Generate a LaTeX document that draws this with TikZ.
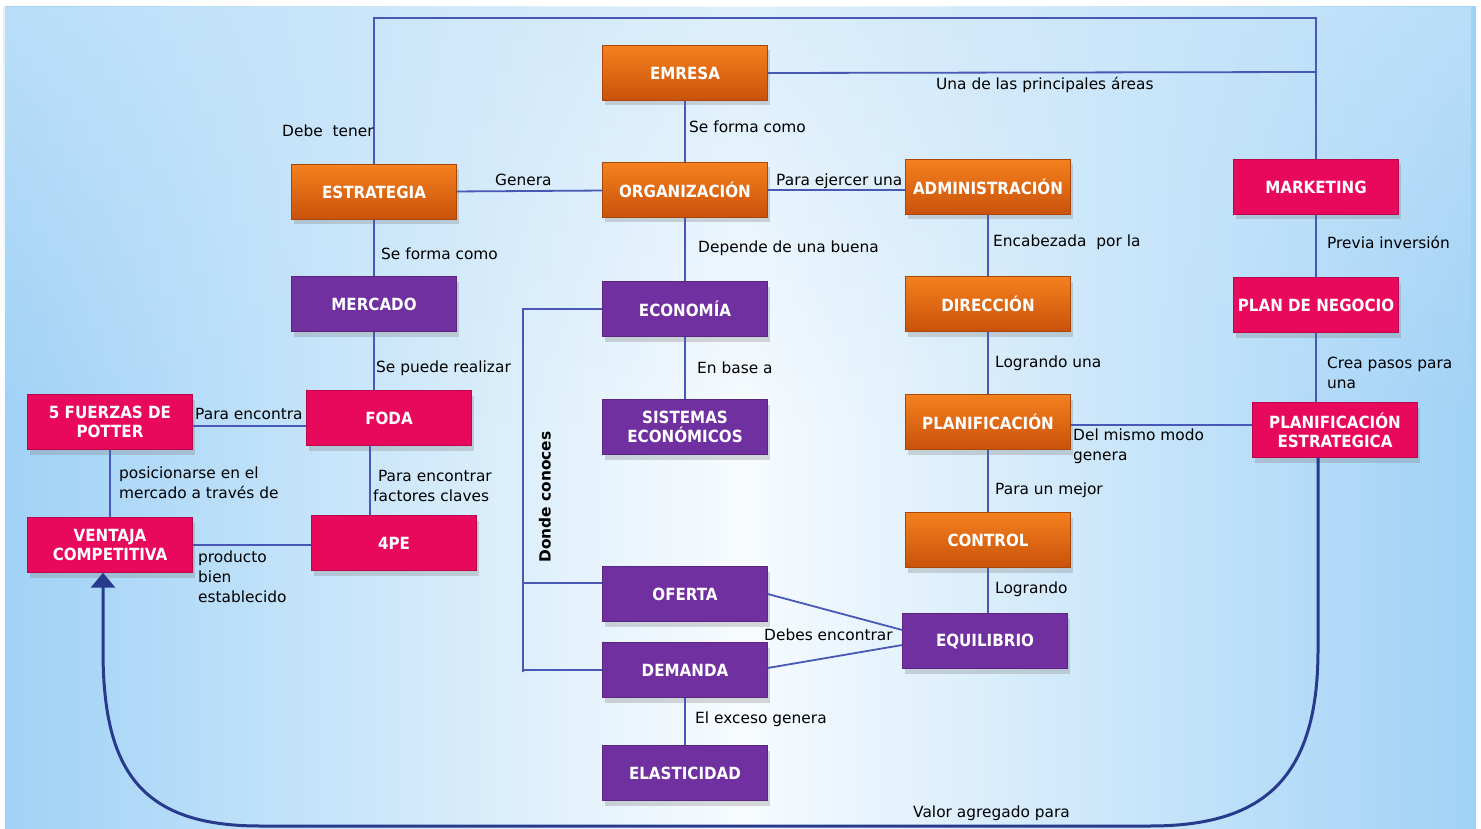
\documentclass[tikz,border=0pt]{standalone}
\usepackage{fontspec}
\setmainfont{DejaVu Sans}
\newfontfamily\boxfont{DejaVu Sans Condensed}
\usetikzlibrary{shadows,arrows.meta,calc,fadings}
\definecolor{oraT}{RGB}{245,128,30}
\definecolor{oraB}{RGB}{200,82,10}
\definecolor{pnk}{RGB}{232,8,92}
\definecolor{pur}{RGB}{112,48,160}
\definecolor{lnk}{RGB}{72,88,180}
\definecolor{nav}{RGB}{40,58,140}
\definecolor{sky}{RGB}{160,210,246}
\tikzset{
  box/.style={minimum width=165pt, minimum height=55pt, inner sep=2pt, align=center,
    font=\boxfont\bfseries\fontsize{16.8}{19}\selectfont, text=white,
    drop shadow={shadow xshift=2pt, shadow yshift=-5pt, opacity=0.3}},
  obox/.style={box, top color=oraT, bottom color=oraB, draw=oraB!85!black, thin},
  pbox/.style={box, fill=pnk, draw=pnk!80!black, thin},
  vbox/.style={box, fill=pur, draw=pur!80!black, thin},
  lbl/.style={font=\fontsize{15.4}{20}\selectfont, text=black, inner sep=0pt, anchor=west, align=left},
  conn/.style={draw=lnk, line width=1.8pt},
}
\begin{document}
\begin{tikzpicture}[x=1pt,y=-1pt]
\useasboundingbox (0,0) rectangle (1481,829);
\fill[white] (0,0) rectangle (1481,829);
\shade[left color=sky, right color=sky, middle color=white!92!sky] (5,7) rectangle (1476,829);
\fill[sky!55!white, path fading=south, opacity=0.6] (5,7) rectangle (1476,420);

% nodes
\node[obox] (emp) at (685,73) {EMRESA};
\node[obox] (org) at (685,190) {ORGANIZACIÓN};
\node[obox] (est) at (374,192) {ESTRATEGIA};
\node[obox] (adm) at (988,187) {ADMINISTRACIÓN};
\node[pbox] (mkt) at (1316,187) {MARKETING};
\node[vbox] (mer) at (374,304) {MERCADO};
\node[vbox] (eco) at (685,309) {ECONOMÍA};
\node[obox] (dir) at (988,304) {DIRECCIÓN};
\node[pbox] (pn) at (1316,305) {PLAN DE NEGOCIO};
\node[pbox] (pot) at (110,422) {5 FUERZAS DE\\POTTER};
\node[pbox] (fod) at (389,418) {FODA};
\node[vbox] (sis) at (685,427) {SISTEMAS\\ECONÓMICOS};
\node[obox] (pla) at (988,422) {PLANIFICACIÓN};
\node[pbox] (pe) at (1335,430) {PLANIFICACIÓN\\ESTRATEGICA};
\node[pbox] (vc) at (110,545) {VENTAJA\\COMPETITIVA};
\node[pbox] (cpe) at (394,543) {4PE};
\node[obox] (ctl) at (988,540) {CONTROL};
\node[vbox] (ofe) at (685,594) {OFERTA};
\node[vbox] (equ) at (985,641) {EQUILIBRIO};
\node[vbox] (dem) at (685,670) {DEMANDA};
\node[vbox] (ela) at (685,773) {ELASTICIDAD};

% helper coordinates
\coordinate (tr) at (1316,18);
\coordinate (emj) at (1316,72);
\coordinate (bx) at (523,672);
\coordinate (vtip) at ($(vc.south)+(-7,0)$);
\coordinate (pes) at ($(pe.south)+(-17,0)$);

% connectors
\draw[conn] (est.north) |- (tr) -- (mkt.north);
\draw[conn] (emp.east) -- (emj);
\draw[conn] (emp) -- (org);
\draw[conn] (est) -- (org);
\draw[conn] (org) -- (adm.west |- org);
\draw[conn] (org) -- (eco);
\draw[conn] (est) -- (mer);
\draw[conn] (adm) -- (dir);
\draw[conn] (mkt) -- (pn);
\draw[conn] (mer) -- (mer |- fod.north);
\draw[conn] (pn) -- (pn |- pe.north);
\draw[conn] (pot.east |- 0,426) -- (fod.west |- 0,426);
\draw[conn] ($(fod.south)+(-19,0)$) -- ($(cpe.north)+(-24,0)$);
\draw[conn] (pot) -- (vc);
\draw[conn] (vc.east) -- (cpe.west |- vc.east);
\draw[conn] (eco) -- (sis);
\draw[conn] (eco.west) -| (bx) |- (dem.west);
\draw[conn] ([yshift=11pt]ofe.west) -- (bx |- 0,583);
\draw[conn] (dir) -- (pla);
\draw[conn] (pla.east |- 0,425) -- (pe.west |- 0,425);
\draw[conn] (pla) -- (ctl);
\draw[conn] (ctl) -- (ctl |- equ.north);
\draw[conn] (ofe.east) -- ($(equ.west)+(0,-11)$);
\draw[conn] ($(dem.east)+(0,-2)$) -- ($(equ.west)+(0,4)$);
\draw[conn] (dem) -- (ela);
\draw[draw=nav, line width=3pt, -{Triangle[width=24pt,length=15pt]}]
  (pes) -- (1318,650) .. controls (1318,780) and (1262,826) .. (1150,826)
  -- (260,826) .. controls (140,826) and (103,770) .. (103,650) -- (vtip);

% labels
\node[lbl] at (282,131) {Debe\ \ tener};
\node[lbl] at (936,85) {Una de las principales áreas};
\node[lbl] at (689,127) {Se forma como};
\node[lbl] at (495,180) {Genera};
\node[lbl] at (776,181) {Para ejercer una};
\node[lbl] at (698,248) {Depende de una buena};
\node[lbl] at (381,254) {Se forma como};
\node[lbl] at (993,242) {Encabezada\ \ por la};
\node[lbl] at (1327,242) {Previa inversión};
\node[lbl] at (376,368) {Se puede realizar};
\node[lbl] at (1327,373) {Crea pasos para\\una};
\node[lbl] at (195,414) {Para encontra};
\node[lbl] at (373,486) {\ Para encontrar\\factores claves};
\node[lbl] at (119,483) {posicionarse en el\\mercado a través de};
\node[lbl] at (198,577) {producto\\bien\\establecido};
\node[lbl] at (697,368) {En base a};
\node[lbl, anchor=center, rotate=90, font=\bfseries\fontsize{15.4}{20}\selectfont] at (545,497) {Donde conoces};
\node[lbl] at (995,363) {Logrando una};
\node[lbl] at (1073,446) {Del mismo modo\\genera};
\node[lbl] at (995,490) {Para un mejor};
\node[lbl] at (995,589) {Logrando};
\node[lbl] at (764,635) {Debes encontrar};
\node[lbl] at (695,719) {El exceso genera};
\node[lbl] at (913,813) {Valor agregado para};
\end{tikzpicture}
\end{document}
